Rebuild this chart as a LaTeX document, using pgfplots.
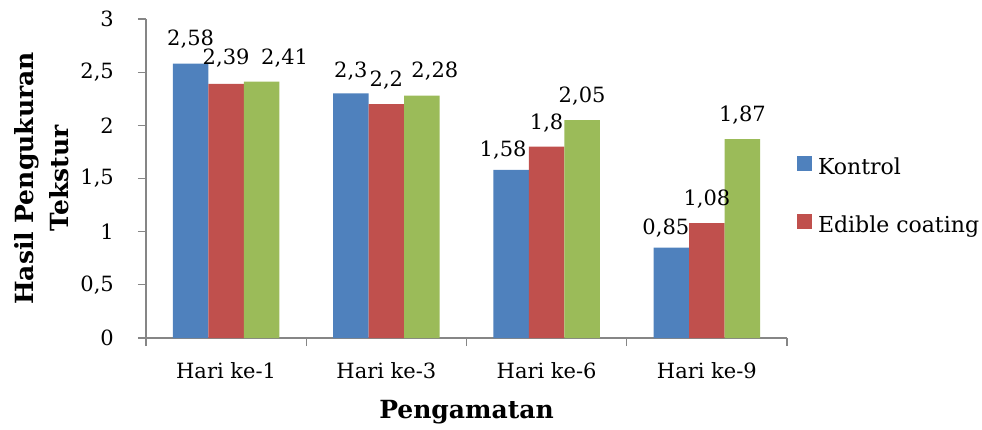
\documentclass[border=0pt]{standalone}
\usepackage{fontspec}
\setmainfont{DejaVu Serif}
\usepackage{pgfplots}
\pgfplotsset{compat=1.18}
\usepackage{pgfplotstable}

\definecolor{kblue}{HTML}{4F81BD}
\definecolor{kred}{HTML}{C0504D}
\definecolor{kgreen}{HTML}{9BBB59}
\definecolor{axgrey}{HTML}{868686}

% x: day index, y: texture score,
% dx/off: horizontal nudge and lift of the value label (pt)
\pgfplotstableread{
x y dx off
0 2.58 0 18
1 2.30 0 16
2 1.58 -8 13.3
3 0.85 -5.5 13
}\kontrol
\pgfplotstableread{
x y dx off
0 2.39 0 19
1 2.20 0 17.3
2 1.80 0 17
3 1.08 0 17.3
}\edible
\pgfplotstableread{
x y dx off
0 2.41 23 17
1 2.28 13 18
2 2.05 0 17.3
3 1.87 0 17.3
}\ketiga

\begin{document}
\begin{tikzpicture}
\useasboundingbox (-146pt,-91pt) rectangle (836pt,338pt);
\begin{axis}[
  at={(0pt,0pt)}, anchor=south west,
  scale only axis, width=641pt, height=319pt,
  ybar=0pt, bar width=35.5pt,
  xmin=-0.5, xmax=3.5, ymin=0, ymax=3,
  axis x line*=bottom, axis y line*=left,
  axis line style={axgrey, line width=1.2pt, -},
  tick style={axgrey, line width=1.2pt},
  tick align=outside,
  major tick length=8pt, minor tick length=8pt,
  xtick={0,1,2,3},
  xticklabels={Hari ke-1,Hari ke-3,Hari ke-6,Hari ke-9},
  minor xtick={-0.5,0.5,1.5,2.5,3.5},
  major x tick style={draw=none},
  ytick={0,0.5,1,1.5,2,2.5,3},
  /pgf/number format/assume math mode=true,
  /pgf/number format/use comma,
  tick label style={font=\fontsize{21}{25}\selectfont},
  xticklabel style={anchor=base, yshift=-32pt},
  yticklabel style={anchor=east, inner sep=0pt, xshift=-24pt},
  xlabel={Pengamatan},
  xlabel style={font=\bfseries\fontsize{25}{30}\selectfont,
    at={(axis description cs:0.5,0)}, anchor=base, yshift=-80pt},
  ylabel={Hasil Pengukuran\\Tekstur},
  ylabel style={font=\bfseries\fontsize{25}{35}\selectfont, align=center,
    at={(axis description cs:-0.1622,0.5)}, anchor=center},
  nodes near coords,
  every node near coord/.append style={font=\fontsize{21}{25}\selectfont,
    text=black, anchor=base, inner sep=0pt},
  legend image code/.code={\fill[#1] (0pt,-2pt) rectangle (15pt,13pt);},
  legend style={at={(axis description cs:1.0156,0.570)}, anchor=north west,
    draw=none, fill=none, inner sep=0pt, outer sep=0pt,
    font=\fontsize{22}{26}\selectfont,
    nodes={inner ysep=0pt, inner xsep=6pt, text height=16pt, text depth=5pt},
    row sep=34pt},
  legend cell align=left,
]
\addplot[fill=kblue, draw=none, forget plot, bar shift=-35.5pt,
  visualization depends on={\thisrow{off}\as\labeloff},
  visualization depends on={\thisrow{dx}\as\labeldx},
  every node near coord/.append style={yshift=\labeloff pt, xshift=\labeldx pt}]
  table[x=x, y=y] {\kontrol};
\addplot[fill=kred, draw=none, forget plot, bar shift=0pt,
  visualization depends on={\thisrow{off}\as\labeloff},
  visualization depends on={\thisrow{dx}\as\labeldx},
  every node near coord/.append style={yshift=\labeloff pt, xshift=\labeldx pt}]
  table[x=x, y=y] {\edible};
\addplot[fill=kgreen, draw=none, forget plot, bar shift=35.5pt,
  visualization depends on={\thisrow{off}\as\labeloff},
  visualization depends on={\thisrow{dx}\as\labeldx},
  every node near coord/.append style={yshift=\labeloff pt, xshift=\labeldx pt}]
  table[x=x, y=y] {\ketiga};
\addlegendimage{fill=kblue, draw=none}
\addlegendentry{Kontrol}
\addlegendimage{fill=kred, draw=none}
\addlegendentry{Edible coating}
\end{axis}
\end{tikzpicture}
\end{document}
